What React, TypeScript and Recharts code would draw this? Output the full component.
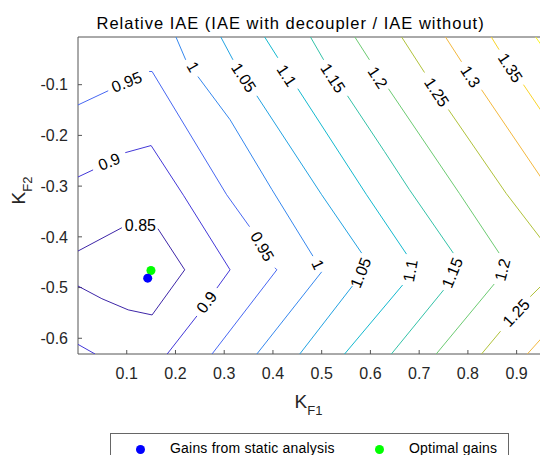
import React from 'react'
import { ScatterChart, Scatter, XAxis, YAxis } from 'recharts'

// axes (KF1 horizontal, KF2 vertical)
const xDomain = [0, 0.95]
const yDomain = [-0.631, -0.006]
const xTicks = [0.1, 0.2, 0.3, 0.4, 0.5, 0.6, 0.7, 0.8, 0.9]
const yTicks = [-0.6, -0.5, -0.4, -0.3, -0.2, -0.1]

// contour levels of the relative IAE, and their parula colours
const levels = [0.85, 0.9, 0.95, 1, 1.05, 1.1, 1.15, 1.2, 1.25, 1.3, 1.35, 1.4]
const levelColors = [
  '#3e26a8', '#4338d8', '#4767f2', '#3587ee', '#22a2e2', '#13b9cf',
  '#33c2a8', '#6ccb72', '#b0c23a', '#f3b83e', '#f9d42a', '#f9f520',
]

// contour pieces as [KF1, KF2] pairs, broken where the labels sit
const c085 = [
  [[0, -0.428], [0.09, -0.382]],
  [[0.164, -0.384], [0.219, -0.465], [0.152, -0.554], [0.103, -0.544], [0.049, -0.522], [0, -0.497]],
]
const c090 = [
  [[0, -0.282], [0.031, -0.268]],
  [[0.097, -0.234], [0.15, -0.22], [0.217, -0.319], [0.312, -0.465], [0.285, -0.501]],
  [[0.244, -0.556], [0.183, -0.631]],
  [[0, -0.612], [0.035, -0.631]],
]
const c095 = [
  [[0, -0.14], [0.062, -0.112]],
  [[0.146, -0.074], [0.152, -0.074], [0.305, -0.317], [0.352, -0.38]],
  [[0.404, -0.461], [0.408, -0.465], [0.275, -0.631]],
]
const c100 = [
  [[0.201, -0.006], [0.221, -0.051]],
  [[0.246, -0.084], [0.312, -0.169], [0.398, -0.307], [0.482, -0.438]],
  [[0.5, -0.469], [0.367, -0.631]],
]
const c105 = [
  [[0.293, -0.006], [0.318, -0.051]],
  [[0.367, -0.122], [0.5, -0.317], [0.582, -0.432]],
  [[0.563, -0.497], [0.455, -0.631]],
]
const c110 = [
  [[0.383, -0.006], [0.41, -0.047]],
  [[0.451, -0.108], [0.592, -0.317], [0.674, -0.434]],
  [[0.666, -0.495], [0.547, -0.631]],
]
const c115 = [
  [[0.477, -0.006], [0.504, -0.051]],
  [[0.553, -0.122], [0.629, -0.232], [0.68, -0.307], [0.77, -0.432]],
  [[0.75, -0.505], [0.643, -0.631]],
]
const c120 = [
  [[0.568, -0.006], [0.598, -0.051]],
  [[0.637, -0.108], [0.783, -0.315], [0.864, -0.432]],
  [[0.854, -0.493], [0.735, -0.631]],
]
const c125 = [
  [[0.664, -0.006], [0.711, -0.076]],
  [[0.76, -0.149], [0.879, -0.315], [0.95, -0.404]],
  [[0.95, -0.497], [0.928, -0.518]],
  [[0.867, -0.586], [0.828, -0.631]],
]
const c130 = [
  [[0.754, -0.006], [0.787, -0.055]],
  [[0.828, -0.11], [0.95, -0.283]],
  [[0.95, -0.601], [0.922, -0.631]],
]
const c135 = [
  [[0.848, -0.006], [0.864, -0.031]],
  [[0.914, -0.1], [0.95, -0.151]],
]
const c140 = [[[0.939, -0.006], [0.95, -0.021]]]

const contourPieces = [c085, c090, c095, c100, c105, c110, c115, c120, c125, c130, c135, c140]

// inline contour labels: position, text, rotation
const labelText = [
  '0.85', '0.9', '0.9', '0.95', '0.95', '1', '1', '1.05', '1.05', '1.1', '1.1',
  '1.15', '1.15', '1.2', '1.2', '1.25', '1.25', '1.3', '1.35',
]
const labelX = [
  0.128, 0.064, 0.264, 0.1, 0.378, 0.236, 0.492, 0.34, 0.58, 0.428, 0.682,
  0.523, 0.768, 0.615, 0.871, 0.736, 0.899, 0.805, 0.887,
]
const labelY = [
  -0.378, -0.252, -0.529, -0.095, -0.419, -0.065, -0.455, -0.086, -0.471, -0.082, -0.467,
  -0.087, -0.471, -0.086, -0.465, -0.115, -0.55, -0.084, -0.067,
]
const labelAngle = [0, -22, -53, -22, 60, 60, 65, 57, -68, 57, -80, 57, -68, 57, -75, 57, -47, 57, 57]

const staticGains = [{ x: 0.143, y: -0.4815 }]
const optimalGains = [{ x: 0.1497, y: -0.4665 }]

const FONT = "'Liberation Sans', Arial, Helvetica, sans-serif"
const AXIS = '#555555'
const INK = '#262626'

const labels = labelText.map((text, i) => ({ x: labelX[i], y: labelY[i], text, angle: labelAngle[i] }))

function NoDot() {
  return <g />
}

function ContourLabel(props: any) {
  const { cx, cy, payload } = props
  return (
    <text
      x={cx}
      y={cy}
      transform={`rotate(${payload.angle} ${cx} ${cy})`}
      textAnchor="middle"
      dominantBaseline="central"
      fontFamily={FONT}
      fontSize={16}
      fill="#000"
    >
      {payload.text}
    </text>
  )
}

function XTitle(props: any) {
  const vb = props.viewBox || { x: 78, y: 354, width: 464 }
  return (
    <text x={vb.x + vb.width / 2 - 1} y={vb.y + 54} textAnchor="middle" fontFamily={FONT} fill={INK}>
      <tspan fontSize={19}>K</tspan>
      <tspan fontSize={13} dy={7}>F1</tspan>
    </text>
  )
}

// y label, plus the chart title (the top axis won't carry a label)
function YTitle(props: any) {
  const vb = props.viewBox || { x: 8, y: 37, height: 317 }
  const cx = vb.x + 17
  const cy = vb.y + vb.height / 2 - 5
  return (
    <g>
      <text
        x={cx}
        y={cy}
        transform={`rotate(-90 ${cx} ${cy})`}
        textAnchor="middle"
        fontFamily={FONT}
        fill={INK}
      >
        <tspan fontSize={19}>K</tspan>
        <tspan fontSize={13} dy={7}>F2</tspan>
      </text>
      <text x={96.5} y={28.5} fontFamily={FONT} fontSize={16.5} letterSpacing={1} fill="#000">
        Relative IAE (IAE with decoupler / IAE without)
      </text>
    </g>
  )
}

function LegendBox() {
  const dot = (color: string) => ({
    position: 'absolute' as const,
    width: 9,
    height: 9,
    borderRadius: '50%',
    background: color,
    top: 10.5,
  })
  const label = {
    position: 'absolute' as const,
    top: 6,
    fontFamily: FONT,
    fontSize: 14,
    letterSpacing: 0.2,
    color: '#000',
    whiteSpace: 'nowrap' as const,
    lineHeight: '16px',
  }
  return (
    <div
      style={{
        position: 'absolute',
        left: 110,
        top: 433,
        width: 399,
        height: 30,
        border: '1px solid #666',
        background: '#fff',
        boxSizing: 'border-box',
      }}
    >
      <div style={{ ...dot('#0000ff'), left: 25 }} />
      <div style={{ ...label, left: 59 }}>Gains from static analysis</div>
      <div style={{ ...dot('#00ff00'), left: 264 }} />
      <div style={{ ...label, left: 298 }}>Optimal gains</div>
    </div>
  )
}

export default function App() {
  return (
    <div
      style={{
        position: 'absolute',
        left: 0,
        top: 0,
        width: 540,
        height: 455,
        overflow: 'hidden',
        background: '#fff',
      }}
    >
      <ScatterChart width={542} height={455} margin={{ top: 36, right: 0, bottom: 61, left: 8 }}>
        <XAxis
          type="number"
          dataKey="x"
          domain={xDomain}
          ticks={xTicks}
          interval={0}
          allowDataOverflow
          height={40}
          tickSize={-4}
          tickMargin={18}
          axisLine={{ stroke: AXIS }}
          tickLine={{ stroke: AXIS }}
          tick={{ fill: INK, fontSize: 16, fontFamily: FONT }}
          label={{ content: (p: any) => <XTitle {...p} /> }}
        />
        <XAxis
          xAxisId="top"
          orientation="top"
          type="number"
          dataKey="x"
          domain={xDomain}
          ticks={xTicks}
          interval={0}
          allowDataOverflow
          height={1}
          tickSize={-4}
          tick={false}
          axisLine={{ stroke: AXIS }}
          tickLine={{ stroke: AXIS }}
        />
        <YAxis
          type="number"
          dataKey="y"
          domain={yDomain}
          ticks={yTicks}
          interval={0}
          allowDataOverflow
          width={70}
          tickSize={-4}
          tickMargin={14}
          axisLine={{ stroke: AXIS }}
          tickLine={{ stroke: AXIS }}
          tick={{ fill: INK, fontSize: 16, fontFamily: FONT }}
          label={{ content: (p: any) => <YTitle {...p} /> }}
        />
        <YAxis
          yAxisId="right"
          orientation="right"
          type="number"
          dataKey="y"
          domain={yDomain}
          ticks={yTicks}
          interval={0}
          allowDataOverflow
          width={1}
          tickSize={-4}
          tick={false}
          axisLine={{ stroke: AXIS }}
          tickLine={{ stroke: AXIS }}
        />

        {contourPieces.map((pieces, li) =>
          pieces.map((seg, si) => (
            <Scatter
              key={`c${levels[li]}-${si}`}
              name={`IAE ${levels[li]}`}
              data={seg.map(([x, y]) => ({ x, y }))}
              fill={levelColors[li]}
              line={{ stroke: levelColors[li], strokeWidth: 1 }}
              shape={NoDot}
              legendType="none"
              isAnimationActive={false}
            />
          ))
        )}

        <Scatter data={labels} shape={ContourLabel} legendType="none" isAnimationActive={false} />

        {/* invisible copy so the top and right frame axes get a domain */}
        <Scatter
          xAxisId="top"
          yAxisId="right"
          data={optimalGains}
          shape={NoDot}
          legendType="none"
          isAnimationActive={false}
        />

        <Scatter name="Optimal gains" data={optimalGains} fill="#00ff00" isAnimationActive={false} />
        <Scatter name="Gains from static analysis" data={staticGains} fill="#0000ff" isAnimationActive={false} />
      </ScatterChart>
      <LegendBox />
    </div>
  )
}
